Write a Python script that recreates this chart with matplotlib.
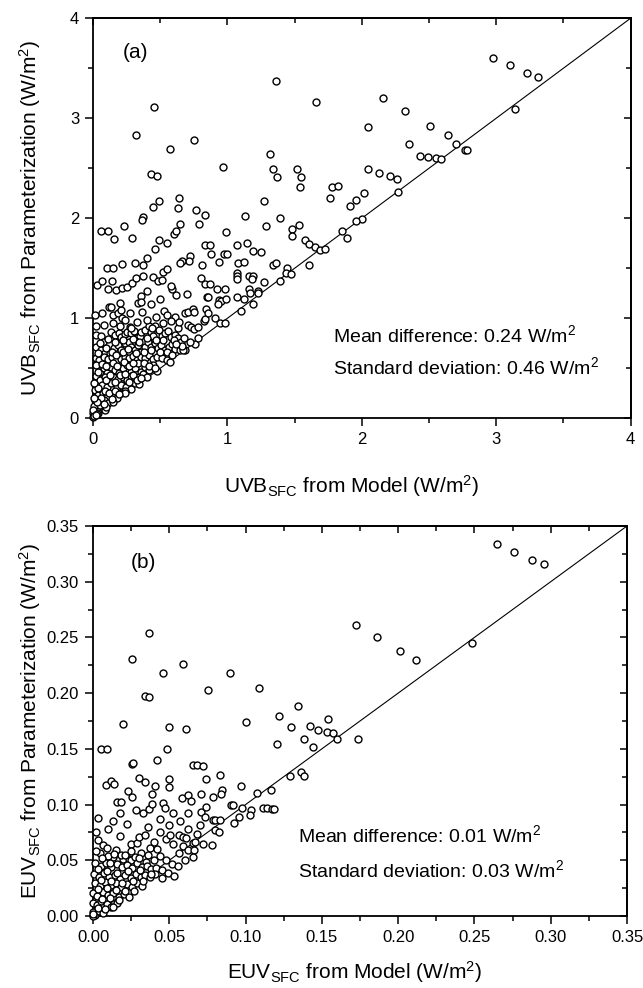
import numpy as np
import matplotlib
matplotlib.use("Agg")
import matplotlib.pyplot as plt
from matplotlib.ticker import MultipleLocator, FormatStrFormatter, NullFormatter

plt.rcParams["font.family"] = ["Liberation Sans", "DejaVu Sans"]
plt.rcParams["mathtext.fontset"] = "custom"
plt.rcParams["mathtext.rm"] = "Liberation Sans"
plt.rcParams["mathtext.it"] = "Liberation Sans:italic"
plt.rcParams["mathtext.bf"] = "Liberation Sans:bold"

# ---------------- (a) UVB at the surface: model vs parameterization ----------------
uvb_model_high = [
    1.36, 0.455, 1.66, 0.32, 0.75, 0.57, 1.32, 0.97, 1.34, 1.37,
    1.52, 1.55, 1.54, 0.43, 0.475, 1.775, 1.82, 1.76, 1.91, 1.96,
    1.27, 0.45, 0.49, 0.64, 0.63, 0.77, 0.83, 1.13, 1.39, 0.37,
    2.98, 3.10, 3.23, 3.31, 3.14, 2.16, 2.32, 2.05, 2.51, 2.64,
    2.35, 2.70, 2.77, 2.78, 2.43, 2.49, 2.55, 2.59, 2.05, 2.13,
    2.21, 2.26, 2.27, 2.02, 2.00,
]
uvb_param_high = [
    3.37, 3.11, 3.16, 2.83, 2.78, 2.69, 2.64, 2.51, 2.49, 2.41,
    2.49, 2.41, 2.31, 2.44, 2.42, 2.31, 2.32, 2.20, 2.12, 2.18,
    2.17, 2.11, 2.17, 2.20, 2.10, 2.08, 2.03, 2.02, 2.00, 2.01,
    3.60, 3.53, 3.45, 3.41, 3.09, 3.20, 3.07, 2.91, 2.92, 2.83,
    2.74, 2.74, 2.68, 2.68, 2.62, 2.61, 2.60, 2.59, 2.49, 2.45,
    2.42, 2.39, 2.26, 2.25, 1.99,
]
uvb_model_mid = [
    0.062, 0.112, 0.154, 0.228, 0.29, 0.365, 0.49, 0.46, 0.55, 0.60,
    0.62, 0.65, 0.79, 0.99, 1.29, 1.48, 1.48, 1.53, 1.58, 1.61,
    1.65, 1.69, 1.73, 1.61, 1.855, 1.89, 1.96, 0.834, 0.87, 0.88,
    0.976, 1.0, 1.07, 1.145, 1.19, 1.25, 0.72, 0.715, 0.665, 0.40,
    0.31, 0.37, 0.107, 0.15, 0.216, 0.52, 0.55, 0.445, 0.48, 0.51,
    0.648, 0.94, 1.08, 1.12, 0.81, 0.80, 0.83, 0.87, 0.92, 0.98,
    1.07, 1.07, 1.075, 1.16, 1.19, 1.18, 1.27, 1.34, 1.36, 1.44,
    1.435, 1.47, 1.39, 1.16, 1.23, 1.07, 1.12, 1.19, 1.10, 0.94,
    0.95, 0.99, 0.93, 0.85, 0.70, 0.62, 0.59, 0.58, 0.50, 0.946,
    0.98, 1.17, 1.23, 0.858,
    0.027, 0.065, 0.112, 0.141, 0.169, 0.216, 0.25, 0.288, 0.32, 0.37,
    0.40, 0.355,
]
uvb_param_mid = [
    1.87, 1.87, 1.79, 1.92, 1.80, 1.98, 1.78, 1.69, 1.75, 1.84,
    1.87, 1.94, 1.94, 1.86, 1.92, 1.89, 1.82, 1.93, 1.78, 1.74,
    1.71, 1.68, 1.69, 1.53, 1.87, 1.80, 1.975, 1.73, 1.73, 1.64,
    1.64, 1.64, 1.73, 1.75, 1.67, 1.66, 1.62, 1.57, 1.57, 1.60,
    1.55, 1.53, 1.50, 1.50, 1.54, 1.46, 1.49, 1.41, 1.37, 1.38,
    1.55, 1.56, 1.55, 1.56, 1.53, 1.40, 1.34, 1.34, 1.29, 1.29,
    1.45, 1.42, 1.39, 1.42, 1.42, 1.39, 1.36, 1.53, 1.55, 1.50,
    1.45, 1.44, 1.37, 1.29, 1.27, 1.21, 1.19, 1.14, 1.07, 1.18,
    1.17, 1.19, 1.14, 1.21, 1.24, 1.23, 1.29, 1.32, 1.19, 0.955,
    0.955, 1.25, 1.25, 1.216,
    1.33, 1.37, 1.29, 1.37, 1.28, 1.30, 1.31, 1.35, 1.40, 1.42,
    1.27, 1.22,
]
uvb_model_low = [
    0.013, 0.067, 0.117, 0.132, 0.149, 0.186, 0.206, 0.201, 0.218, 0.236,
    0.273, 0.335, 0.36, 0.365, 0.429, 0.471, 0.528, 0.548, 0.613, 0.687,
    0.707, 0.747, 0.752, 0.826, 0.836, 0.843, 0.856, 0.905,
    0.025, 0.062, 0.075, 0.137, 0.166, 0.191, 0.211, 0.236, 0.256, 0.273,
    0.285, 0.305, 0.323, 0.347, 0.36, 0.39, 0.414, 0.429, 0.447, 0.459,
    0.489, 0.514, 0.533, 0.558, 0.583, 0.613, 0.633, 0.657, 0.707, 0.732,
    0.752, 0.781, 0.633, 0.682, 0.757,
    0.025, 0.057, 0.092, 0.127, 0.156, 0.186, 0.211, 0.236, 0.266, 0.285,
    0.31, 0.335, 0.36, 0.39, 0.409, 0.434, 0.459, 0.484, 0.509, 0.538,
    0.563, 0.588, 0.613, 0.645, 0.67,
    0.023, 0.047, 0.082, 0.112, 0.142, 0.171, 0.206, 0.236, 0.27, 0.298,
    0.33, 0.36, 0.39, 0.414, 0.449, 0.479, 0.514, 0.548, 0.571,
    0.025, 0.05, 0.082, 0.107, 0.132, 0.161, 0.191, 0.221, 0.251, 0.28,
    0.31, 0.335, 0.36, 0.39, 0.419, 0.449, 0.479,
    0.023, 0.052, 0.087, 0.117, 0.151, 0.186, 0.221, 0.256, 0.285, 0.315,
    0.345, 0.375, 0.404,
    0.067, 0.102, 0.137, 0.176, 0.211, 0.246, 0.28, 0.31, 0.34,
    0.013, 0.037, 0.072, 0.107, 0.147, 0.181, 0.211, 0.241, 0.24,
    0.013, 0.042, 0.082, 0.112, 0.151, 0.062, 0.087, 0.10, 0.032, 0.008,
    0.013, 0.037, 0.0, 0.0, 0.0, 0.03, 0.01, 0.02,
]
uvb_param_low = [
    1.033, 1.056, 1.116, 1.110, 1.033, 1.05, 1.083, 1.15, 1.0, 0.983,
    1.056, 1.15, 1.166, 1.066, 1.143, 1.016, 1.076, 1.033, 1.01, 1.056,
    1.066, 1.09, 1.066, 0.976, 0.99, 1.09, 1.05, 1.0,
    0.833, 0.823, 0.767, 0.867, 0.833, 0.85, 0.817, 0.843, 0.867, 0.917,
    0.857, 0.877, 0.8, 0.823, 0.867, 0.883, 0.923, 0.867, 0.823, 0.923,
    0.883, 0.823, 0.85, 0.877, 0.817, 0.833, 0.8, 0.767, 0.933, 0.917,
    0.89, 0.917, 0.9, 0.683, 0.743,
    0.716, 0.683, 0.65, 0.65, 0.7, 0.733, 0.683, 0.75, 0.767, 0.717,
    0.683, 0.733, 0.667, 0.717, 0.767, 0.717, 0.75, 0.7, 0.733, 0.683,
    0.717, 0.743, 0.69, 0.683, 0.683,
    0.6, 0.583, 0.617, 0.59, 0.617, 0.577, 0.59, 0.61, 0.6, 0.623,
    0.583, 0.617, 0.6, 0.633, 0.59, 0.617, 0.6, 0.583, 0.567,
    0.533, 0.467, 0.5, 0.45, 0.516, 0.483, 0.45, 0.5, 0.533, 0.467,
    0.5, 0.55, 0.467, 0.516, 0.483, 0.533, 0.477,
    0.423, 0.383, 0.41, 0.367, 0.417, 0.39, 0.41, 0.383, 0.423, 0.39,
    0.41, 0.443, 0.417,
    0.333, 0.317, 0.35, 0.31, 0.333, 0.31, 0.29, 0.35, 0.344,
    0.283, 0.233, 0.257, 0.217, 0.233, 0.2, 0.257, 0.277, 0.25,
    0.183, 0.167, 0.183, 0.15, 0.167, 0.116, 0.083, 0.11, 0.1, 0.124,
    0.05, 0.057, 0.01, 0.05, 0.083, 0.04, 0.02, 0.03,
]
uvb_model_core = [
    0.04, 0.06, 0.09, 0.12, 0.16, 0.19, 0.05, 0.08, 0.03, 0.14,
    0.10, 0.13, 0.16, 0.20, 0.24, 0.27, 0.30, 0.33, 0.36, 0.04,
    0.07, 0.10, 0.15, 0.18, 0.23, 0.27, 0.30, 0.38, 0.42, 0.46,
    0.04, 0.10, 0.14, 0.17, 0.22, 0.26, 0.32, 0.38, 0.43, 0.50,
    0.55, 0.59, 0.52, 0.47, 0.40, 0.34, 0.30, 0.22, 0.16, 0.11,
    0.05, 0.60, 0.68, 0.72, 0.78, 0.66, 0.62, 0.02, 0.08, 0.15,
    0.20, 0.33, 0.40, 0.52, 0.58, 0.64, 0.44, 0.28, 0.005, 0.005,
]
uvb_param_core = [
    0.30, 0.20, 0.27, 0.25, 0.27, 0.24, 0.13, 0.14, 0.16, 0.19,
    0.38, 0.43, 0.36, 0.43, 0.44, 0.36, 0.43, 0.38, 0.40, 0.46,
    0.54, 0.52, 0.55, 0.52, 0.56, 0.52, 0.55, 0.55, 0.52, 0.50,
    0.65, 0.70, 0.66, 0.63, 0.66, 0.69, 0.65, 0.66, 0.68, 0.66,
    0.66, 0.63, 0.78, 0.78, 0.80, 0.76, 0.79, 0.78, 0.76, 0.79,
    0.75, 0.78, 0.80, 0.76, 0.80, 0.72, 0.74, 0.92, 0.93, 0.95,
    0.92, 0.96, 0.98, 0.95, 0.97, 0.96, 0.90, 0.90, 0.35, 0.20,
]

# ---------------- (b) EUV at the surface: model vs parameterization ----------------
euv_model_high = [
    0.1723, 0.0365, 0.0256, 0.0588, 0.0459, 0.0896, 0.0754, 0.1086, 0.0343, 0.0369,
    0.265, 0.2759, 0.2879, 0.2955, 0.1861, 0.2012, 0.2117, 0.2484, 0.1343, 0.0197,
    0.0496, 0.0607, 0.1003, 0.1217, 0.1298, 0.1422, 0.1477, 0.1542, 0.1531, 0.1571,
    0.1597, 0.1385, 0.1440, 0.1208, 0.1735, 0.0052, 0.0094, 0.0487, 0.0417, 0.0258,
    0.0264, 0.0653, 0.068, 0.0723,
]
euv_param_high = [
    0.2614, 0.2537, 0.2304, 0.2264, 0.2184, 0.2184, 0.2031, 0.2043, 0.1974, 0.1963,
    0.3338, 0.3267, 0.3198, 0.3159, 0.2507, 0.2375, 0.2295, 0.2453, 0.1885, 0.1726,
    0.1693, 0.1675, 0.1741, 0.1795, 0.1693, 0.1705, 0.1672, 0.1765, 0.1654, 0.164,
    0.1586, 0.1591, 0.1519, 0.1544, 0.1591, 0.1496, 0.1496, 0.1502, 0.14, 0.1364,
    0.1372, 0.1355, 0.1355, 0.1346,
]
euv_model_mid = [
    0.0087, 0.0116, 0.014, 0.0301, 0.0343, 0.0408, 0.0389, 0.05, 0.0496, 0.0743,
    0.0834, 0.097, 0.1291, 0.1363, 0.1385, 0.1164, 0.1073, 0.0227, 0.0258, 0.0035,
    0.0155, 0.0183, 0.0179, 0.028, 0.033, 0.0367, 0.0389, 0.0459, 0.0474, 0.0522,
    0.0585, 0.0625, 0.0642, 0.0706, 0.0625, 0.0708, 0.0740, 0.0734, 0.0784, 0.08,
    0.0832, 0.0802, 0.0828, 0.0843, 0.0837, 0.0789, 0.0904, 0.092, 0.0976, 0.0926,
    0.0955, 0.1033, 0.1029, 0.1112, 0.1142, 0.1171, 0.1188,
]
euv_param_mid = [
    0.1173, 0.1214, 0.1185, 0.1241, 0.1203, 0.1167, 0.1095, 0.1227, 0.116, 0.1229,
    0.1268, 0.1169, 0.1259, 0.1292, 0.1259, 0.1131, 0.1107, 0.1122, 0.1071, 0.0877,
    0.102, 0.102, 0.0927, 0.0951, 0.0927, 0.0963, 0.1002, 0.1017, 0.0972, 0.0921,
    0.1056, 0.1086, 0.1029, 0.1092, 0.0921, 0.0936, 0.0981, 0.0891, 0.0862, 0.0862,
    0.0862, 0.0772, 0.0757, 0.1131, 0.1095, 0.1065, 0.0999, 0.0999, 0.0966, 0.0832,
    0.0888, 0.0951, 0.0906, 0.0972, 0.0966, 0.0963, 0.0963,
]
euv_model_lowmid = [
    0.0031, 0.0068, 0.0094, 0.0046, 0.0153, 0.0194, 0.0238, 0.0247, 0.0247, 0.0286,
    0.0303, 0.0343, 0.0371, 0.0417, 0.0439, 0.0478, 0.0505, 0.0526, 0.0561, 0.0592,
    0.0607, 0.0561, 0.0588, 0.0625, 0.0653, 0.0668, 0.0664, 0.0657, 0.0723, 0.078,
    0.0131, 0.0317, 0.0349, 0.0186, 0.0098, 0.0273,
]
euv_param_lowmid = [
    0.0682, 0.0637, 0.0607, 0.0563, 0.0595, 0.0509, 0.0509, 0.0503, 0.0646, 0.0658,
    0.0712, 0.0724, 0.0607, 0.0598, 0.0757, 0.0688, 0.0727, 0.0646, 0.0727, 0.0712,
    0.0697, 0.0563, 0.0628, 0.0592, 0.0652, 0.0661, 0.0592, 0.0532, 0.0643, 0.0637,
    0.0533, 0.0563, 0.0488, 0.0548, 0.054, 0.0527,
]
euv_model_low = [
    0.0015, 0.0054, 0.0087, 0.0120, 0.0159, 0.0190, 0.0225, 0.0255, 0.0290, 0.0321,
    0.0351, 0.0382, 0.0415, 0.0452, 0.0491, 0.0530,
    0.0007, 0.0037, 0.0072, 0.0107, 0.0142, 0.0177, 0.0212, 0.0247, 0.0282, 0.0312,
    0.0343, 0.0373, 0.0404,
    0.0011, 0.0046, 0.0081, 0.0116, 0.0150, 0.0185, 0.0220, 0.0255, 0.0290, 0.0321,
    0.0, 0.0028, 0.0063, 0.0098, 0.0133, 0.0168, 0.0203, 0.0238,
    0.0, 0.0024, 0.0054, 0.0089, 0.012, 0.0155,
    0.0, 0.0011, 0.0037, 0.0068, 0.0, 0.0,
]
euv_param_low = [
    0.0479, 0.0449, 0.0473, 0.0437, 0.0467, 0.0443, 0.0458, 0.0428, 0.0473, 0.0437,
    0.0449, 0.0419, 0.0431, 0.0413, 0.0389, 0.0359,
    0.0377, 0.0353, 0.0383, 0.0348, 0.0371, 0.0336, 0.0365, 0.0342, 0.0377, 0.0353,
    0.0371, 0.0348, 0.0377,
    0.0294, 0.027, 0.0306, 0.0276, 0.03, 0.0264, 0.0288, 0.0258, 0.0294, 0.027,
    0.021, 0.018, 0.0216, 0.0186, 0.0204, 0.0174, 0.0198, 0.0174,
    0.012, 0.0096, 0.0132, 0.0108, 0.0084, 0.012,
    0.004, 0.001, 0.0048, 0.0024, 0.0, 0.0018,
]
euv_model_core = [
    0.002, 0.006, 0.011, 0.014, 0.021, 0.025, 0.030, 0.036, 0.040, 0.044,
    0.048, 0.052, 0.056, 0.060, 0.003, 0.009, 0.016, 0.023, 0.031, 0.038,
    0.045, 0.005, 0.012, 0.019, 0.026, 0.033, 0.003, 0.009, 0.015, 0.021,
    0.027, 0.006, 0.011, 0.017, 0.003, 0.008, 0.013, 0.002, 0.010, 0.018,
    0.022, 0.013, 0.036, 0.044, 0.050, 0.057, 0.062, 0.068, 0.070, 0.040,
]
euv_param_core = [
    0.058, 0.052, 0.048, 0.056, 0.055, 0.058, 0.052, 0.055, 0.050, 0.054,
    0.050, 0.047, 0.045, 0.050, 0.042, 0.040, 0.039, 0.040, 0.041, 0.038,
    0.034, 0.032, 0.031, 0.030, 0.031, 0.031, 0.024, 0.025, 0.023, 0.022,
    0.022, 0.015, 0.016, 0.014, 0.007, 0.006, 0.008, 0.075, 0.078, 0.072,
    0.083, 0.085, 0.080, 0.087, 0.082, 0.085, 0.078, 0.074, 0.082, 0.066,
]

uvb_stats = ("0.24", "0.46")
euv_stats = ("0.01", "0.03")

# ---------------- figure layout (pixel based) ----------------
W, H = 643, 988
fig = plt.figure(figsize=(W / 100, H / 100), dpi=100)


def px_axes(left, top, right, bottom):
    return fig.add_axes([left / W, 1 - bottom / H, (right - left) / W, (bottom - top) / H])


def px_text(x, y, s, **kw):
    return fig.text(x / W, 1 - y / H, s, **kw)


def style_axes(ax, lim, major, minor, fmt):
    ax.set_xlim(0, lim)
    ax.set_ylim(0, lim)
    for axis in (ax.xaxis, ax.yaxis):
        axis.set_major_locator(MultipleLocator(major))
        axis.set_minor_locator(MultipleLocator(minor))
        axis.set_major_formatter(FormatStrFormatter(fmt))
    ax.tick_params(which="major", direction="out", length=6, width=1.1,
                   labelsize=12, pad=4, top=False, right=False)
    ax.tick_params(which="minor", direction="out", length=3.5, width=1.1,
                   top=False, right=False)
    for sp in ax.spines.values():
        sp.set_linewidth(1.3)
    # mirrored ticks on the top and right edges, pointing inward
    top = ax.secondary_xaxis("top")
    right = ax.secondary_yaxis("right")
    for sec, axis in ((top, top.xaxis), (right, right.yaxis)):
        axis.set_major_locator(MultipleLocator(major))
        axis.set_minor_locator(MultipleLocator(minor))
        axis.set_major_formatter(NullFormatter())
        sec.tick_params(which="major", direction="in", length=5, width=1.1)
        sec.tick_params(which="minor", direction="in", length=3.5, width=1.1)
        for sp in sec.spines.values():
            sp.set_linewidth(1.3)


def scatter(ax, xs, ys, lim):
    ax.plot([0, lim], [0, lim], color="black", lw=0.8, zorder=2)
    ax.plot(xs, ys, linestyle="none", marker="o", ms=5.0, mfc="white",
            mec="black", mew=1.0, clip_on=False, zorder=3)


# panel (a)
ax_a = px_axes(93, 18.3, 630.5, 418.3)
style_axes(ax_a, 4, 1, 0.5, "%d")
scatter(ax_a,
        np.concatenate([uvb_model_high, uvb_model_mid, uvb_model_low, uvb_model_core]),
        np.concatenate([uvb_param_high, uvb_param_mid, uvb_param_low, uvb_param_core]), 4)
ax_a.text(0.222, 3.66, "(a)", fontsize=15, ha="left", va="center")
ax_a.text(1.786, 0.763, f"Mean difference: {uvb_stats[0]} W/m$^2$", fontsize=14, ha="left", va="baseline")
ax_a.text(1.786, 0.443, f"Standard deviation: {uvb_stats[1]} W/m$^2$", fontsize=14, ha="left", va="baseline")

# panel (b)
ax_b = px_axes(93, 526, 627, 916)
style_axes(ax_b, 0.35, 0.05, 0.025, "%.2f")
scatter(ax_b,
        np.concatenate([euv_model_high, euv_model_mid, euv_model_lowmid, euv_model_low, euv_model_core]),
        np.concatenate([euv_param_high, euv_param_mid, euv_param_lowmid, euv_param_low, euv_param_core]),
        0.35)
ax_b.text(0.0249, 0.317, "(b)", fontsize=15, ha="left", va="center")
ax_b.text(0.1343, 0.0664, f"Mean difference: {euv_stats[0]} W/m$^2$", fontsize=14, ha="left", va="baseline")
ax_b.text(0.1343, 0.035, f"Standard deviation: {euv_stats[1]} W/m$^2$", fontsize=14, ha="left", va="baseline")

# axis titles
px_text(352, 486, r"UVB$_{\mathrm{SFC}}$ from Model (W/m$^2$)", fontsize=15, ha="center", va="center")
px_text(30, 218, r"UVB$_{\mathrm{SFC}}$ from Parameterization (W/m$^2$)", fontsize=15,
        ha="center", va="center", rotation=90)
px_text(355, 972, r"EUV$_{\mathrm{SFC}}$ from Model (W/m$^2$)", fontsize=15, ha="center", va="center")
px_text(30, 721, r"EUV$_{\mathrm{SFC}}$ from Parameterization (W/m$^2$)", fontsize=15,
        ha="center", va="center", rotation=90)

fig.savefig("out.png", dpi=100, facecolor="white")
